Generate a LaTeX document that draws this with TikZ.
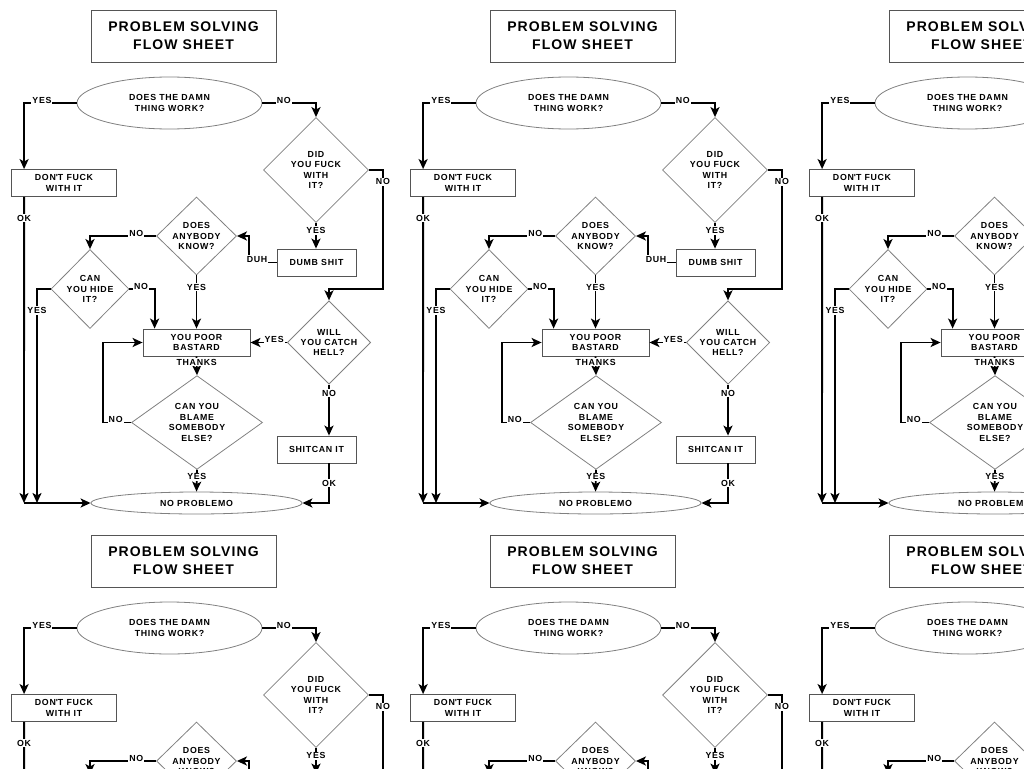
\documentclass[tikz,border=0pt]{standalone}
\usepackage{fontspec}
\setmainfont{Liberation Sans}
\newfontfamily\flowfont{Liberation Sans}[LetterSpace=8]
\usetikzlibrary{shapes.geometric,arrows.meta,calc}
\definecolor{shapegray}{HTML}{808080}
\definecolor{boxgray}{HTML}{555555}
\newcommand{\shapefont}{\flowfont\fontsize{8.8}{10.4}\selectfont\bfseries}
\newcommand{\titlefont}{\flowfont\fontsize{14}{18}\selectfont\bfseries}
\tikzset{
  box/.style={rectangle, draw=boxgray, line width=0.8pt, inner sep=0pt, align=center, font=\shapefont},
  dia/.style={diamond, draw=shapegray, line width=0.8pt, inner sep=0pt, align=center, font=\shapefont},
  oval/.style={ellipse, draw=shapegray, line width=0.8pt, inner sep=0pt, align=center, font=\shapefont},
  flow/.style={line width=1.9pt, -{Stealth[length=10pt,width=9pt,inset=2.5pt]}},
  lbl/.style={fill=white, inner sep=1pt, font=\shapefont},
  hlbl/.style={lbl, yshift=3pt},
}
% one flow sheet, in pixel coordinates of a tile
\newcommand{\flowsheet}{%
  % Title
  \node[box, font=\titlefont, minimum width=185pt, minimum height=52pt] (title) at (183.5,36) {PROBLEM SOLVING\\FLOW SHEET};
  % Shapes
  \node[oval, minimum width=185pt, minimum height=52pt] (work) at (169.5,103) {DOES THE DAMN\\THING WORK?};
  \node[box, minimum width=105pt, minimum height=27pt] (dontfuck) at (64,183) {DON\textquotesingle T FUCK\\WITH IT};
  \node[dia, minimum width=105pt, minimum height=105pt] (didfuck) at (316,170) {DID\\YOU FUCK\\WITH\\IT?};
  \node[dia, minimum width=80pt, minimum height=78pt] (anybody) at (196.5,236) {DOES\\ANYBODY\\KNOW?};
  \node[box, minimum width=79pt, minimum height=27pt] (dumb) at (316.5,262.5) {DUMB SHIT};
  \node[dia, minimum width=78pt, minimum height=79pt] (hide) at (90,289) {CAN\\YOU HIDE\\IT?};
  \node[box, minimum width=107pt, minimum height=27pt] (bastard) at (196.5,342.5) {YOU POOR\\BASTARD};
  \node[dia, minimum width=79pt, minimum height=79pt] (hell) at (329,342.5) {WILL\\YOU CATCH\\HELL?};
  \node[dia, minimum width=131pt, minimum height=79pt] (blame) at (197,422.5) {CAN YOU\\BLAME\\SOMEBODY\\ELSE?};
  \node[box, minimum width=79pt, minimum height=27pt] (shitcan) at (316.5,449.5) {SHITCAN IT};
  \node[oval, minimum width=211pt, minimum height=22pt] (noprob) at (196.5,503) {NO PROBLEMO};
  \coordinate (okend) at (24,503);
  \coordinate (yesend) at (37,503);
  % Connectors
  \draw[flow] (work.west) -| node[hlbl, pos=.33]{YES} ([xshift=13pt]dontfuck.north west);
  \draw[flow] ([xshift=13pt]dontfuck.south west) -- node[lbl, pos=.07]{OK} (okend);
  \draw[flow] (okend) -- (noprob.west);
  \draw[flow] (hide.west) -| node[lbl, pos=.55]{YES} (yesend);
  \draw[flow] (work.east) -| node[hlbl, pos=.2]{NO} (didfuck.north);
  \draw[flow] (didfuck.south) -- node[lbl, pos=.3]{YES} (didfuck.south |- dumb.north);
  \draw[flow] (didfuck.east) -- ++(14,0) -- node[lbl, pos=.1]{NO} ++(0,119) -| (hell.north);
  \draw[flow] (dumb.west) -- ++(-28,0) node[hlbl, pos=.7]{DUH} |- (anybody.east);
  \draw[flow] (anybody.west) -| node[hlbl, pos=.15]{NO} (hide.north);
  \draw[flow] (anybody.south) -- node[lbl, pos=.22]{YES} (bastard.north);
  \draw[flow] (hide.east) -| node[hlbl, pos=.23]{NO} ([xshift=12pt]bastard.north west);
  \draw[flow] (hell.west) -- node[hlbl, pos=.35]{YES} (bastard.east);
  \draw[flow] (hell.south) -- node[lbl, pos=.17]{NO} (hell.south |- shitcan.north);
  \draw[flow] (hell.south |- shitcan.south) |- node[lbl, pos=.25]{OK} (noprob.east);
  \draw[flow] (bastard.south) -- node[lbl, pos=.3]{THANKS} (blame.north);
  \draw[flow] (blame.west) -- node[hlbl, pos=.55]{NO} ++(-28,0) |- (bastard.west);
  \draw[flow] (blame.south) -- node[lbl, pos=.33]{YES} (noprob.north);
}

\begin{document}
\begin{tikzpicture}[x=1pt, y=-1pt]
  \useasboundingbox (0,0) rectangle (1024,768);
  \clip (0,0) rectangle (1024,768);
  % Tiled sheets
  \foreach \dx in {0,399,798} {
    \foreach \dy in {0,525} {
      \begin{scope}[shift={(\dx,\dy)}]
        \flowsheet
      \end{scope}
    }
  }
\end{tikzpicture}
\end{document}
